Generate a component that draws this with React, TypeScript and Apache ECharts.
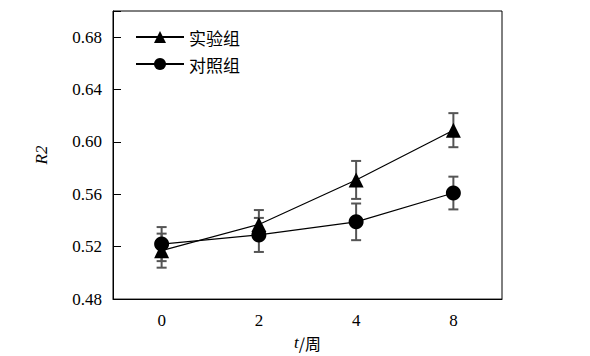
import React, { useEffect, useRef } from "react";
import * as echarts from "echarts";

const categories = ["0", "2", "4", "8"];
const expValues = [0.517, 0.537, 0.571, 0.609];
const expErrors = [0.013, 0.011, 0.0145, 0.013];
const ctrlValues = [0.522, 0.529, 0.539, 0.561];
const ctrlErrors = [0.013, 0.013, 0.014, 0.0125];
const yTicks = [0.48, 0.52, 0.56, 0.6, 0.64, 0.68];

const serif = "Times New Roman, Liberation Serif, DejaVu Serif, serif";
const cjk = "Noto Sans CJK SC, sans-serif";

function errorSeries(name: string, values: number[], errors: number[]) {
  const data = values.map((v, i) => [i, v - errors[i], v + errors[i]]);
  return {
    type: "custom",
    name: name + "-err",
    z: 1,
    silent: true,
    renderItem: (params: any, api: any) => {
      const x = api.value(0);
      const lo = api.coord([x, api.value(1)]);
      const hi = api.coord([x, api.value(2)]);
      const w = 5;
      const style = { stroke: "#555", lineWidth: 2 };
      return {
        type: "group",
        children: [
          { type: "line", shape: { x1: lo[0], y1: lo[1], x2: hi[0], y2: hi[1] }, style },
          { type: "line", shape: { x1: lo[0] - w, y1: lo[1], x2: lo[0] + w, y2: lo[1] }, style },
          { type: "line", shape: { x1: hi[0] - w, y1: hi[1], x2: hi[0] + w, y2: hi[1] }, style },
        ],
      };
    },
    data,
  };
}

export default function App() {
  const ref = useRef<HTMLDivElement>(null);
  useEffect(() => {
    if (!ref.current) return;
    const chart = echarts.init(ref.current, null, { renderer: "svg" });
    chart.setOption({
      animation: false,
      backgroundColor: "#fff",
      textStyle: { fontFamily: serif },
      grid: {
        left: 113,
        top: 11,
        right: 88,
        bottom: 53,
        show: true,
        borderColor: "#000",
        borderWidth: 1,
      },
      legend: {
        left: 130,
        top: 23,
        padding: 5,
        orient: "vertical",
        itemWidth: 48,
        itemHeight: 15,
        itemGap: 9,
        textStyle: { fontFamily: cjk, fontSize: 17, lineHeight: 18, color: "#000" },
        data: ["实验组", "对照组"],
      },
      xAxis: {
        type: "category",
        data: categories,
        boundaryGap: true,
        axisLine: { lineStyle: { color: "#000", width: 1 } },
        axisTick: { inside: true, alignWithLabel: true, length: 8, lineStyle: { color: "#000" } },
        axisLabel: { fontFamily: serif, fontSize: 17, color: "#000", margin: 13 },
        name: "{i|t}{c|/周}",
        nameLocation: "middle",
        nameGap: 29,
        nameTextStyle: {
          fontFamily: serif,
          fontSize: 16,
          color: "#000",
          rich: {
            i: { fontFamily: serif, fontStyle: "italic", fontSize: 17, color: "#000" },
            c: { fontFamily: cjk, fontSize: 16, color: "#000" },
          },
        },
        splitLine: { show: false },
      },
      yAxis: {
        type: "value",
        min: 0.48,
        max: 0.7,
        interval: 0.04,
        axisLine: { show: true, lineStyle: { color: "#000", width: 1 } },
        axisTick: { show: true, inside: true, length: 8, lineStyle: { color: "#000" } },
        axisLabel: {
          fontFamily: serif,
          fontSize: 17,
          color: "#000",
          margin: 11,
          formatter: (v: number) =>
            yTicks.some((t) => Math.abs(t - v) < 1e-6) ? v.toFixed(2) : "",
        },
        splitLine: { show: false },
        name: "R2",
        nameLocation: "middle",
        nameGap: 63,
        nameRotate: 90,
        nameTextStyle: { fontFamily: serif, fontStyle: "italic", fontSize: 17, color: "#000" },
      },
      series: [
        errorSeries("实验组", expValues, expErrors),
        errorSeries("对照组", ctrlValues, ctrlErrors),
        {
          type: "line",
          name: "实验组",
          data: expValues,
          symbol: "triangle",
          symbolSize: 15,
          z: 3,
          lineStyle: { color: "#000", width: 1.2 },
          itemStyle: { color: "#000" },
        },
        {
          type: "line",
          name: "对照组",
          data: ctrlValues,
          symbol: "circle",
          symbolSize: 15,
          z: 3,
          lineStyle: { color: "#000", width: 1.2 },
          itemStyle: { color: "#000" },
        },
      ],
    });
    return () => chart.dispose();
  }, []);
  return (
    <div
      ref={ref}
      style={{ position: "absolute", left: 0, top: 0, width: 590, height: 356 }}
    />
  );
}
